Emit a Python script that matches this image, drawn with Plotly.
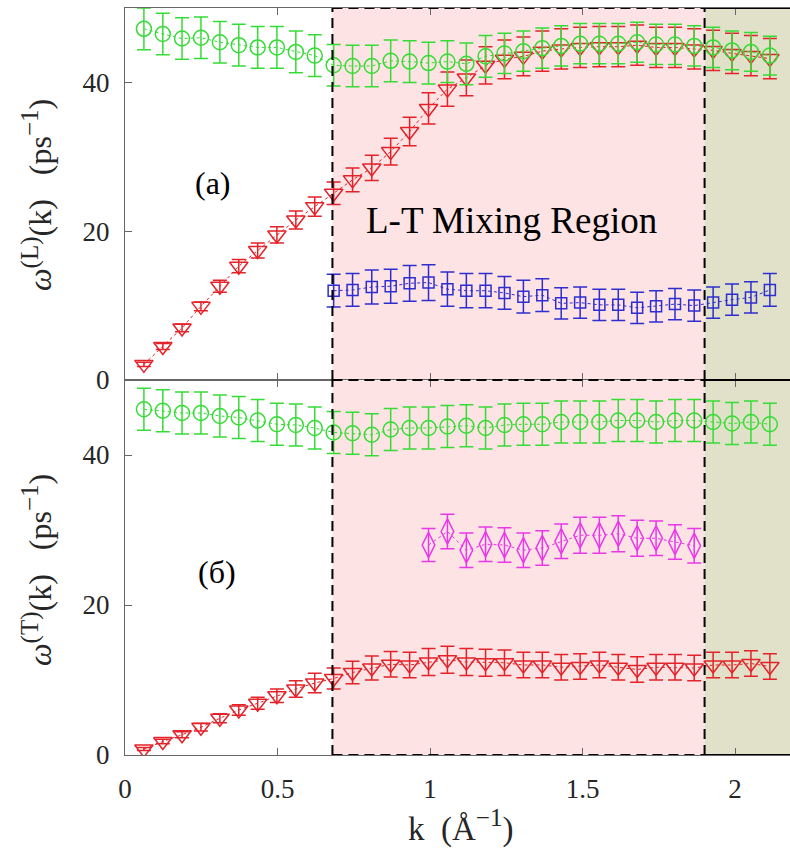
import plotly.graph_objects as go

# wavevector grid, k in 1/Angstrom
k = [0.062, 0.124, 0.187, 0.249, 0.311, 0.373, 0.435, 0.498, 0.560, 0.622,
     0.684, 0.746, 0.809, 0.871, 0.933, 0.995, 1.057, 1.119, 1.182, 1.244,
     1.306, 1.368, 1.430, 1.492, 1.555, 1.617, 1.679, 1.741, 1.803, 1.866,
     1.928, 1.990, 2.052, 2.114]

# (a) longitudinal branches
L_high = [47.2, 46.5, 45.9, 46.0, 45.4, 45.0, 44.7, 44.7, 44.1, 43.6,
          42.3, 42.2, 42.2, 42.9, 42.8, 42.6, 42.8, 42.5, 43.5, 43.9,
          44.2, 44.6, 44.9, 45.2, 45.2, 45.2, 45.4, 45.1, 45.1, 44.9,
          44.7, 44.3, 44.1, 43.6]
L_high_err = [2.8, 2.8, 2.8, 2.8, 2.8, 2.8, 2.8, 2.8, 2.8, 2.8,
              2.8, 2.8, 2.8, 2.8, 2.8, 2.8, 2.8, 2.8, 2.8, 2.7,
              2.7, 2.7, 2.7, 2.7, 2.7, 2.7, 2.7, 2.7, 2.7, 2.7,
              2.7, 2.6, 2.6, 2.6]
L_low = [2.1, 4.5, 7.0, 9.9, 12.6, 15.3, 17.4, 19.5, 21.5, 23.3,
         25.1, 26.9, 28.5, 30.7, 33.4, 36.5, 39.1, 40.6, 42.3, 43.1,
         43.5, 44.2, 44.5, 44.7, 44.8, 44.8, 45.0, 44.7, 44.7, 44.5,
         44.3, 43.9, 43.6, 43.2]
L_low_err = [0.3, 0.4, 0.5, 0.6, 0.8, 0.9, 1.0, 1.1, 1.2, 1.3,
             1.5, 1.6, 1.7, 1.8, 1.9, 2.1, 2.3, 2.4, 2.5, 2.6,
             2.6, 2.7, 2.7, 2.7, 2.7, 2.7, 2.7, 2.7, 2.7, 2.7,
             2.7, 2.7, 2.7, 2.7]
k_L_mid = k[10:]
L_mid = [12.0, 12.1, 12.5, 12.6, 13.0, 13.1, 12.2, 12.0, 12.0, 11.7,
         11.2, 11.4, 10.3, 10.4, 10.1, 10.1, 9.7, 9.9, 10.2, 10.0,
         10.4, 10.8, 11.1, 12.1]
L_mid_err = [2.2, 2.2, 2.3, 2.3, 2.4, 2.4, 2.3, 2.3, 2.3, 2.2,
             2.2, 2.2, 2.1, 2.1, 2.1, 2.1, 2.1, 2.1, 2.1, 2.1,
             2.1, 2.1, 2.1, 2.2]

# (б) transverse branches
T_high = [46.1, 45.9, 45.6, 45.6, 45.2, 45.0, 44.6, 44.1, 44.0, 43.6,
          43.0, 42.9, 42.7, 43.4, 43.6, 43.6, 43.8, 43.9, 43.6, 44.0,
          44.1, 44.1, 44.4, 44.4, 44.4, 44.6, 44.6, 44.4, 44.6, 44.6,
          44.4, 44.2, 44.4, 44.1]
T_high_err = [2.8] * 34
k_T_mid = k[15:30]
T_mid = [28.0, 29.8, 27.3, 28.1, 28.0, 27.3, 27.6, 28.5, 29.3, 29.3,
         29.5, 28.9, 28.9, 28.4, 27.9]
T_mid_err = [2.2, 2.3, 2.3, 2.3, 2.3, 2.3, 2.3, 2.3, 2.4, 2.4,
             2.4, 2.4, 2.3, 2.3, 2.3]
T_low = [0.8, 1.8, 2.7, 3.7, 4.9, 6.0, 6.9, 7.9, 8.8, 9.6,
         10.2, 11.0, 11.6, 12.1, 12.0, 12.4, 12.7, 12.4, 12.3, 12.3,
         12.0, 12.0, 11.7, 11.8, 12.0, 11.7, 11.4, 11.7, 11.7, 11.6,
         12.0, 12.0, 12.2, 11.8]
T_low_err = [0.2, 0.3, 0.4, 0.5, 0.6, 0.7, 0.8, 0.9, 1.1, 1.3,
             1.4, 1.5, 1.6, 1.7, 1.7, 1.8, 1.8, 1.8, 1.8, 1.7,
             1.7, 1.7, 1.7, 1.7, 1.7, 1.7, 1.7, 1.7, 1.7, 1.7,
             1.7, 1.7, 1.7, 1.7]

# region limits
mix_lo, mix_hi = 0.68, 1.9
k_max = 2.18
y_max = 50

GREEN = "#36dc36"
RED = "#e4222a"
BLUE = "#2e2ed0"
MAGENTA = "#e838e8"
PINK = "#fde3e3"
OLIVE = "#e0e1c8"
FONT = "Liberation Serif"
NB = "\u00a0"


def series(x, y, err, color, symbol, size, xa, ya):
    return go.Scatter(
        x=x, y=y, xaxis=xa, yaxis=ya,
        mode="lines+markers",
        line=dict(color=color, width=1, dash="dot"),
        marker=dict(symbol=symbol, size=size, color=color,
                    line=dict(color=color, width=1.5)),
        error_y=dict(type="data", array=err, color=color,
                     thickness=1.5, width=7),
        showlegend=False,
    )


fig = go.Figure()
# panel (a): axes x / y
fig.add_trace(series(k, L_low, L_low_err, RED, "triangle-down-open", 16, "x", "y"))
fig.add_trace(series(k_L_mid, L_mid, L_mid_err, BLUE, "square-open", 11, "x", "y"))
fig.add_trace(series(k, L_high, L_high_err, GREEN, "circle-open", 15, "x", "y"))
# panel (б): axes x2 / y2
fig.add_trace(series(k, T_low, T_low_err, RED, "triangle-down-open", 16, "x2", "y2"))
fig.add_trace(series(k_T_mid, T_mid, T_mid_err, MAGENTA, "diamond-tall-open", 18, "x2", "y2"))
fig.add_trace(series(k, T_high, T_high_err, GREEN, "circle-open", 15, "x2", "y2"))

shapes = []
dash = "10px,6px"
for xr, yr in (("x", "y"), ("x2", "y2")):
    shapes += [
        dict(type="rect", xref=xr, yref=yr, x0=mix_lo, x1=mix_hi, y0=0, y1=y_max,
             fillcolor=PINK, line=dict(width=0), layer="below"),
        dict(type="rect", xref=xr, yref=yr, x0=mix_hi, x1=k_max, y0=0, y1=y_max,
             fillcolor=OLIVE, line=dict(width=0), layer="below"),
    ]
    for yy in (0, y_max):
        shapes.append(dict(type="line", xref=xr, yref=yr, x0=mix_hi, x1=k_max,
                           y0=yy, y1=yy, line=dict(color="black", width=2), layer="above"))
        shapes.append(dict(type="line", xref=xr, yref=yr, x0=mix_lo, x1=mix_hi,
                           y0=yy, y1=yy, line=dict(color="black", width=2, dash=dash),
                           layer="above"))
    for xx in (mix_lo, mix_hi):
        shapes.append(dict(type="line", xref=xr, yref=yr, x0=xx, x1=xx, y0=0, y1=y_max,
                           line=dict(color="black", width=2, dash=dash), layer="above"))

split = 375 / 747

axis_common = dict(
    showline=True, linecolor="#666", linewidth=1,
    ticks="inside", ticklen=7, tickcolor="#666", tickwidth=1,
    showgrid=False, zeroline=False,
    tickfont=dict(family=FONT, size=27, color="#262626"),
)

fig.update_layout(
    width=790, height=852,
    margin=dict(l=125, r=0, t=8, b=97),
    plot_bgcolor="white", paper_bgcolor="white",
    shapes=shapes,
    xaxis=dict(axis_common, range=[0, k_max], tickvals=[0, 0.5, 1, 1.5, 2],
               showticklabels=False, mirror="ticks", anchor="y"),
    yaxis=dict(axis_common, range=[0, y_max], tickvals=[0, 20, 40],
               domain=[split, 1], anchor="x", ticklabelstandoff=9),
    xaxis2=dict(axis_common, range=[0, k_max], tickvals=[0, 0.5, 1, 1.5, 2],
                ticktext=["0", "0.5", "1", "1.5", "2"], mirror="ticks",
                anchor="y2", ticklabelstandoff=10),
    yaxis2=dict(axis_common, range=[0, y_max], tickvals=[0, 20, 40],
                domain=[0, split], anchor="x2", ticklabelstandoff=9),
)

big = dict(family=FONT, size=32, color="black")
fig.add_annotation(x=0.29, y=26.5, xref="x", yref="y", text="(a)",
                   showarrow=False, font=big)
fig.add_annotation(x=1.266, y=21.5, xref="x", yref="y", text="L-T Mixing Region",
                   showarrow=False, font=dict(family=FONT, size=37, color="black"))
fig.add_annotation(x=0.30, y=24.4, xref="x2", yref="y2", text="(б)",
                   showarrow=False, font=big)

lab = dict(family=FONT, size=32, color="#262626")
sup = '<sup><span style="font-size:25px">{}</span></sup>'
for name, py in (("L", 195), ("T", 570)):
    fig.add_annotation(
        x=(37 - 125) / 665, y=(755 - py) / 747, xref="paper", yref="paper",
        xanchor="center", yanchor="middle",
        text="<i>ω</i>" + sup.format("(" + name + ")") + "(k)" + NB * 3
             + "(ps" + sup.format("−1") + ")",
        textangle=-90, showarrow=False, font=lab)
fig.add_annotation(x=(460 - 125) / 665, y=-(826 - 755) / 747, xref="paper", yref="paper",
                   xanchor="center", yanchor="middle",
                   text="k" + NB * 2 + "(Å" + sup.format("−1") + ")",
                   showarrow=False, font=dict(family=FONT, size=33, color="#262626"))

fig.write_html("out.html")
